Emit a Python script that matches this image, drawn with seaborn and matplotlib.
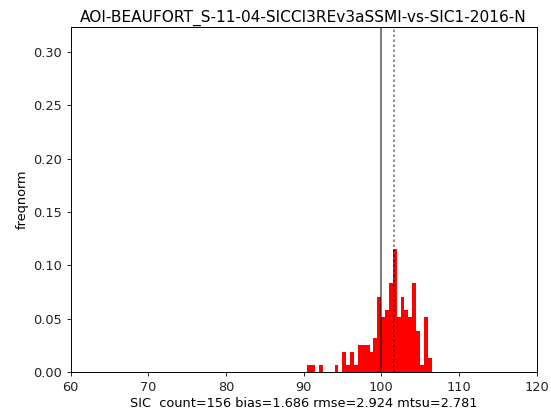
import numpy as np
import pandas as pd
import matplotlib
matplotlib.use("Agg")
import matplotlib.pyplot as plt
import seaborn as sns

# bin left edges (SIC, bin width 0.5) and normalised frequency
bin_left = [90.5, 91.0, 91.5, 92.0, 92.5, 93.0, 93.5, 94.0, 94.5, 95.0, 95.5,
            96.0, 96.5, 97.0, 97.5, 98.0, 98.5, 99.0, 99.5, 100.0, 100.5,
            101.0, 101.5, 102.0, 102.5, 103.0, 103.5, 104.0, 104.5, 105.0,
            105.5, 106.0]
freqnorm = [0.0064, 0.0064, 0.0, 0.0064, 0.0, 0.0, 0.0, 0.0064, 0.0, 0.0192,
            0.0064, 0.0192, 0.0064, 0.0256, 0.0256, 0.0256, 0.0192, 0.0321,
            0.0705, 0.0513, 0.0577, 0.0833, 0.1154, 0.0513, 0.0705, 0.0577,
            0.0513, 0.0833, 0.0385, 0.0064, 0.0513, 0.0128]
bin_width = 0.5
ref_value = 100.0
bias = 1.686
title = "AOI-BEAUFORT_S-11-04-SICCI3REv3aSSMI-vs-SIC1-2016-N"
xlabel = "SIC  count=156 bias=1.686 rmse=2.924 mtsu=2.781"
ylabel = "freqnorm"

df = pd.DataFrame({"sic": np.array(bin_left) + bin_width / 2, "w": freqnorm})

fig = plt.figure(figsize=(5.51, 4.18), dpi=100)
ax = fig.add_axes([0.128, 0.110, 0.8457, 0.8254])

sns.histplot(data=df, x="sic", weights="w", binwidth=bin_width,
             binrange=(bin_left[0], bin_left[-1] + bin_width),
             color="red", alpha=1.0, linewidth=0, edgecolor="none", ax=ax)

ax.axvline(ref_value, color="k", alpha=0.5, lw=1.5)
ax.axvline(ref_value + bias, color="k", alpha=0.5, lw=1.2,
           linestyle=(0, (1.5, 1.5)))

ax.set_xlim(60, 120)
ax.set_ylim(0, 0.3235)
ax.set_xticks([60, 70, 80, 90, 100, 110, 120])
ax.set_yticks([0.0, 0.05, 0.10, 0.15, 0.20, 0.25, 0.30])
ax.set_yticklabels([f"{v:.2f}" for v in [0.0, 0.05, 0.10, 0.15, 0.20, 0.25, 0.30]])
ax.tick_params(labelsize=9.3, length=3, width=0.7, colors="#222222")
for s in ax.spines.values():
    s.set_linewidth(0.7)
ax.set_title(title, fontsize=11.1, pad=4)
ax.set_xlabel(xlabel, fontsize=9.3, labelpad=2)
ax.set_ylabel(ylabel, fontsize=9.3, labelpad=3)

fig.savefig("out.png", dpi=100)
